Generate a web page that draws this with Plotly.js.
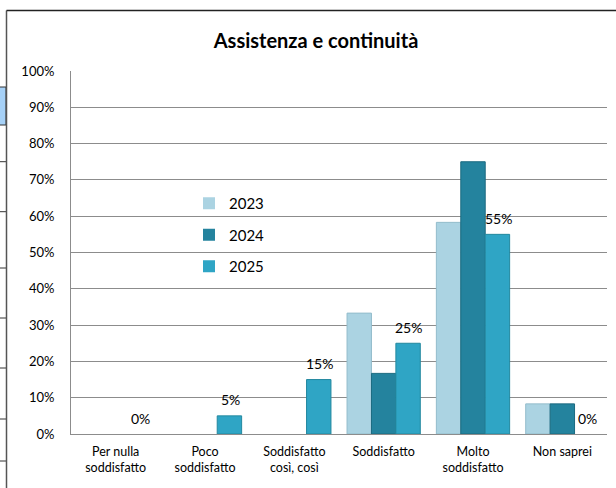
<!DOCTYPE html>
<html>
<head>
<meta charset="utf-8">
<script src="https://cdn.plot.ly/plotly-3.0.1.min.js"></script>
<style>html,body{margin:0;padding:0;background:#fff;}#chart{width:616px;height:488px;}</style>
</head>
<body>
<div id="chart"></div>
<script>
const categories = ["Per nulla<br>soddisfatto", "Poco<br>soddisfatto", "Soddisfatto<br>così, così", "Soddisfatto", "Molto<br>soddisfatto", "Non saprei"];
const seriesNames = ["2023", "2024", "2025"];
const values2023 = [0, 0, 0, 33.3, 58.3, 8.3];
const values2024 = [0, 0, 0, 16.7, 75, 8.3];
const values2025 = [0, 5, 15, 25, 55, 0];
const yTickValues = [0, 10, 20, 30, 40, 50, 60, 70, 80, 90, 100];
const yTickLabels = ["0%", "10%", "20%", "30%", "40%", "50%", "60%", "70%", "80%", "90%", "100%"];
const chartTitle = "Assistenza e continuità";

const FONT = "Lato, Carlito, 'Liberation Sans', sans-serif";
const colors = ["#abd3e2", "#24839e", "#2fa5c5"];
const lineColors = ["#93bccb", "#1b6a80", "#23889f"];
const allValues = [values2023, values2024, values2025];

const traces = allValues.map((vals, i) => ({
  type: "bar",
  name: seriesNames[i],
  x: categories,
  y: vals,
  legendgroup: "g" + i,
  marker: {color: colors[i], line: {color: lineColors[i], width: vals.map(v => v > 0 ? 1 : 0)}},
  hoverinfo: "none"
}));

// data labels for 2025 series
const annotations = values2025.map((v, j) => ({
  x: categories[j], y: v, xref: "x", yref: "y",
  text: v + "%", showarrow: false,
  xshift: 25, yshift: 16, yanchor: "middle",
  font: {family: FONT, size: 14, color: "#000"}
}));

// pixel -> paper helpers for decorative frame
const L = 71, R = 607, T = 71, B = 434;
const px = x => (x - L) / (R - L);
const py = y => (B - y) / (B - T);

const shapes = [];
shapes.push({type: "rect", xref: "paper", yref: "paper", x0: px(-2), x1: px(6), y0: py(125), y1: py(87), fillcolor: "#a6d1f7", line: {color: "#333", width: 1}, layer: "below"});
[161.7, 211.7, 268, 318, 368, 419, 461].forEach(y => {
  shapes.push({type: "line", xref: "paper", yref: "paper", x0: px(-2), x1: px(6), y0: py(y), y1: py(y), line: {color: "#333", width: 1}});
});
shapes.push({type: "line", xref: "paper", yref: "paper", x0: px(6.5), x1: px(6.5), y0: py(10.5), y1: py(500), line: {color: "#555", width: 1.5}});
shapes.push({type: "line", xref: "paper", yref: "paper", x0: px(6.5), x1: px(620), y0: py(10.5), y1: py(10.5), line: {color: "#222", width: 1.5}});

const layout = {
  width: 616, height: 488,
  margin: {l: L, r: 616 - R, t: T, b: 488 - B, pad: 0},
  paper_bgcolor: "#fff", plot_bgcolor: "rgba(0,0,0,0)",
  font: {family: FONT, color: "#000"},
  title: {text: "<b>" + chartTitle + "</b>", x: 0.513, xanchor: "center", y: 1 - 41 / 488, yanchor: "middle", font: {family: FONT, size: 20, color: "#000"}},
  barmode: "group", bargap: 0.18, bargroupgap: 0,
  showlegend: true,
  legend: {x: px(189), y: py(187), xanchor: "left", yanchor: "top", bgcolor: "rgba(0,0,0,0)", traceorder: "grouped", tracegroupgap: 9, font: {family: FONT, size: 15, color: "#000"}, itemwidth: 30},
  xaxis: {type: "category", showgrid: false, showline: true, linecolor: "#8c8c8c", linewidth: 1, ticks: "", ticklabelstandoff: 6, tickfont: {family: FONT, size: 12.5, color: "#000"}, fixedrange: true},
  yaxis: {range: [0, 100], tickvals: yTickValues, ticktext: yTickLabels, showgrid: true, gridcolor: "#8c8c8c", gridwidth: 1, showline: true, linecolor: "#8c8c8c", linewidth: 1, zeroline: false, ticks: "", ticklabelstandoff: 13, tickfont: {family: FONT, size: 13, color: "#000"}, fixedrange: true},
  annotations: annotations,
  shapes: shapes
};

Plotly.newPlot("chart", traces, layout, {staticPlot: true, displayModeBar: false});
</script>
</body>
</html>
